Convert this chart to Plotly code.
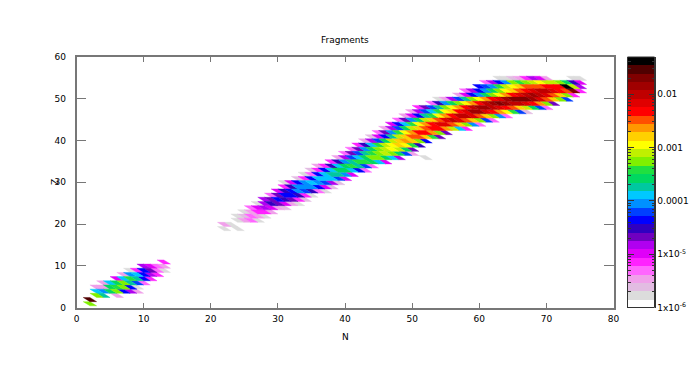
import plotly.graph_objects as go

TITLE = "Fragments"
FONT = "DejaVu Sans"

# colour bands of the palette, low to high
band_colors = ["#ffffff", "#dcdcdc", "#e2bce2", "#f0a0ea", "#ff66ff", "#ff22ff", "#e000f8", "#b000f0",
               "#7000c0", "#3000c0", "#0000ff", "#0040ff", "#0090ff", "#00c8ff", "#00c8a0", "#00d860",
               "#20e040", "#80f000", "#c0f000", "#ffff00", "#ffd000", "#ff9800", "#ff5000", "#ff0000",
               "#e00000", "#c00000", "#a00000", "#800000", "#500000", "#000000"]

cb_min = -6.0      # log10 of the colour range
cb_max = -1.305
cb_ticks = [-6, -5, -4, -3, -2]
cb_labels = ["1x10<sup>-6</sup>", "1x10<sup>-5</sup>", "0.0001", "0.001", "0.01"]

# proton rows: Z, first neutron number, band read for each successive N (0 = empty)
row_z = list(range(0, 11)) + list(range(18, 55))
row_start = [2, 2, 3, 3, 3, 4, 6, 7, 8, 10, 13,
             22, 22, 24, 24, 25, 26, 27, 28, 29, 30, 31, 31, 33, 34, 35,
             36, 38, 39, 40, 41, 42, 43, 44, 45, 46, 47, 48, 49, 50, 51, 53, 54,
             57, 58, 60, 61, 63]
row_bands = [
    [18],
    [29],
    [18, 15, 0, 4],
    [14, 13, 16, 18, 11, 8, 4],
    [4, 4, 16, 17, 18, 11, 2],
    [4, 14, 16, 18, 15, 12, 5],
    [7, 14, 17, 15, 11, 6],
    [4, 13, 14, 11, 8, 6],
    [2, 6, 11, 9, 5, 2],
    [8, 7, 5, 4],
    [6],
    [2, 0, 2],
    [4, 2],
    [2, 4, 5, 2],
    [2, 3, 5, 4, 2],
    [2, 4, 6, 6, 4],
    [5, 7, 8, 7, 4, 3],
    [2, 8, 10, 9, 7, 4, 2],
    [8, 9, 11, 10, 9, 6, 3],
    [5, 9, 11, 11, 10, 6, 2],
    [7, 10, 11, 13, 12, 10, 5, 2],
    [6, 10, 13, 13, 13, 11, 7, 3],
    [2, 7, 11, 13, 14, 13, 12, 8, 3],
    [3, 6, 11, 14, 14, 14, 12, 7],
    [2, 5, 11, 14, 15, 15, 13, 7],
    [3, 6, 11, 14, 16, 16, 14, 11, 5],
    [4, 6, 10, 14, 16, 17, 15, 12, 5],
    [6, 10, 13, 15, 17, 17, 16, 14, 7],
    [4, 8, 12, 14, 16, 18, 18, 16, 14, 8, 0, 0, 0, 2],
    [5, 9, 12, 15, 17, 18, 19, 18, 16, 12, 4],
    [5, 9, 13, 16, 18, 19, 20, 19, 16, 9],
    [6, 10, 14, 17, 19, 20, 21, 20, 17, 10],
    [4, 8, 12, 16, 19, 21, 22, 21, 18, 11],
    [3, 7, 11, 15, 19, 21, 23, 23, 21, 17, 9],
    [5, 9, 13, 17, 20, 22, 24, 24, 22, 18, 9],
    [4, 8, 12, 16, 19, 21, 23, 24, 24, 22, 19, 14, 6],
    [7, 11, 14, 17, 20, 22, 24, 25, 25, 23, 21, 18, 13, 5],
    [5, 9, 13, 16, 19, 21, 23, 25, 26, 25, 23, 21, 18, 12, 5],
    [4, 7, 11, 15, 17, 20, 22, 24, 26, 26, 25, 23, 21, 18, 13, 5],
    [4, 8, 12, 14, 17, 20, 21, 24, 25, 27, 27, 25, 24, 22, 20, 17, 12, 3],
    [6, 9, 12, 15, 18, 20, 22, 24, 26, 27, 27, 26, 25, 24, 23, 21, 19, 16, 12, 5],
    [5, 10, 13, 16, 18, 20, 22, 24, 26, 27, 28, 27, 26, 26, 25, 24, 22, 18, 9],
    [2, 4, 8, 12, 15, 18, 20, 22, 24, 25, 27, 28, 28, 28, 27, 25, 23, 21, 18, 12],
    [4, 7, 11, 13, 16, 18, 20, 22, 24, 25, 26, 27, 26, 25, 23, 21, 18, 6],
    [5, 8, 11, 13, 16, 18, 20, 21, 23, 24, 25, 26, 26, 25, 24, 23, 28, 6],
    [11, 12, 13, 17, 19, 20, 21, 23, 23, 23, 24, 24, 24, 30, 19, 8],
    [5, 8, 11, 13, 18, 17, 18, 19, 20, 19, 19, 18, 16, 10, 7],
    [2, 2, 3, 4, 6, 8, 7, 4, 0, 0, 0, 2, 2],
]

Z_SHIFT = 0.4    # rows sit slightly above the integer Z in the source

xs = {b: [] for b in range(2, len(band_colors) + 1)}
ys = {b: [] for b in xs}
for z, n0, bands in zip(row_z, row_start, row_bands):
    for i, b in enumerate(bands):
        if b == 0:
            continue
        n = n0 + i
        zb = z + Z_SHIFT
        # each cell is sheared: one N to the left per Z upward
        xs[b] += [n, n + 1, n, n - 1, n, None]
        ys[b] += [zb, zb, zb + 1, zb + 1, zb, None]

fig = go.Figure()
for b in xs:
    if xs[b]:
        c = band_colors[b - 1]
        fig.add_trace(go.Scatter(x=xs[b], y=ys[b], mode="lines", fill="toself",
                                 fillcolor=c, line=dict(color=c, width=0.4),
                                 hoverinfo="skip", showlegend=False))

# colour key
nb = len(band_colors)
edges = [cb_min + (cb_max - cb_min) * i / nb for i in range(nb + 1)]
scale = []
for i, c in enumerate(band_colors):
    scale += [[i / nb, c], [(i + 1) / nb, c]]
fig.add_trace(go.Heatmap(x=[0, 1], y=edges, z=[[i + 0.5] for i in range(nb)],
                         zmin=0, zmax=nb, colorscale=scale, showscale=False,
                         hoverinfo="skip", xaxis="x2", yaxis="y2"))

W, H = 690, 365


def px(x):
    return x / W


def py(y):
    return 1 - y / H


AX = "#777777"
tickfont = dict(family=FONT, size=9, color="#000000")
minor_vals = [d + m for d in range(-6, -1) for m in (0.301, 0.477, 0.602, 0.699, 0.778, 0.845, 0.903, 0.954)]
minor_vals = [v for v in minor_vals if v < cb_max]

fig.update_layout(
    width=W, height=H, autosize=False,
    margin=dict(l=0, r=0, t=0, b=0, autoexpand=False),
    paper_bgcolor="white", plot_bgcolor="white",
    xaxis=dict(domain=[px(76.5), px(613.5)], range=[0, 80], tickvals=list(range(0, 81, 10)),
               ticks="inside", ticklen=5, tickwidth=1, tickcolor=AX, showline=True, linecolor=AX,
               linewidth=1.5, mirror="ticks", showgrid=False, zeroline=False, tickfont=tickfont,
               ticklabelstandoff=2, automargin=False),
    yaxis=dict(domain=[py(307.5), py(57)], range=[0, 60], tickvals=list(range(0, 61, 10)),
               ticks="inside", ticklen=10, tickwidth=1, tickcolor=AX, showline=True, linecolor=AX,
               linewidth=1.5, mirror="ticks", showgrid=False, zeroline=False, tickfont=tickfont,
               ticklabelstandoff=7, automargin=False),
    xaxis2=dict(domain=[px(627.5), px(654.5)], range=[0, 1], anchor="y2", visible=False),
    yaxis2=dict(domain=[py(307.5), py(57)], range=[cb_min, cb_max], anchor="x2", side="right",
                tickvals=cb_ticks, ticktext=cb_labels, ticks="inside", ticklen=6, tickwidth=1,
                tickcolor="#333333", showline=True, linecolor="#333333", linewidth=1, mirror="ticks",
                showgrid=False, zeroline=False, tickfont=tickfont, automargin=False,
                minor=dict(tickvals=minor_vals, ticks="inside", ticklen=3, tickcolor="#333333", tickwidth=1)),
    annotations=[
        dict(text=TITLE, xref="paper", yref="paper", x=px(345), y=py(40), xanchor="center", yanchor="middle",
             showarrow=False, font=tickfont),
        dict(text="N", xref="paper", yref="paper", x=px(345), y=py(337), xanchor="center", yanchor="middle",
             showarrow=False, font=tickfont),
        dict(text="Z", xref="paper", yref="paper", x=px(55), y=py(182), xanchor="center", yanchor="middle",
             textangle=-90, showarrow=False, font=tickfont),
    ],
    shapes=[dict(type="rect", xref="paper", yref="paper", x0=px(627.5), x1=px(654.5),
                 y0=py(307.5), y1=py(57), line=dict(color="#333333", width=1))],
)

fig.write_html("out.html", config={"displayModeBar": False},
               post_script="document.body.style.margin='0';")
